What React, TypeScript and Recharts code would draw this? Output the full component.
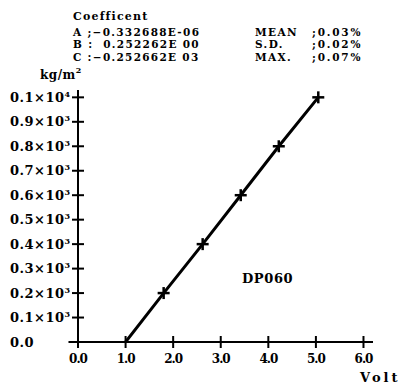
import React from 'react';
import { LineChart, Line, XAxis, YAxis, ReferenceLine, Customized } from 'recharts';

const volts = [1.0, 1.8, 2.62, 3.42, 4.22, 5.05];
const pressure = [0, 200, 400, 600, 800, 1000];
const xTicks = [0, 1, 2, 3, 4, 5, 6];
const xTickLabels = ['0.0', '1.0', '2.0', '3.0', '4.0', '5.0', '6.0'];
const yTicks = [0, 100, 200, 300, 400, 500, 600, 700, 800, 900, 1000];
const yTickLabels = ['0.0', '0.1×10^3', '0.2×10^3', '0.3×10^3', '0.4×10^3', '0.5×10^3', '0.6×10^3', '0.7×10^3', '0.8×10^3', '0.9×10^3', '0.1×10^4'];
const coefLines = ['A ;−0.332688E-06', 'B :  0.252262E 00', 'C :−0.252662E 03'];
const statNames = ['MEAN', 'S.D.', 'MAX.'];
const statValues = [';0.03%', ';0.02%', ';0.07%'];

const data = volts.map((v, i) => ({ v, kg: pressure[i] }));

const FONT = '"DejaVu Serif", "Liberation Serif", serif';

const XTick = (props: any) => {
  const { x, y, payload } = props;
  const idx = xTicks.indexOf(payload.value);
  return (
    <g>
      <line x1={x} x2={x} y1={y - 6} y2={y + 6} stroke="#000" strokeWidth={2} />
      <text x={x} y={y + 21} textAnchor="middle" fontFamily={FONT} fontWeight="bold" fontSize={12} letterSpacing={-1} fill="#000">
        {xTickLabels[idx]}
      </text>
    </g>
  );
};

const YTick = (props: any) => {
  const { y, payload } = props;
  const x = props.x;
  const idx = yTicks.indexOf(payload.value);
  const label = yTickLabels[idx] || '';
  const parts = label.split('^');
  return (
    <g>
      <line x1={x - 6} x2={x + 6} y1={y} y2={y} stroke="#000" strokeWidth={2} />
      <text x={10} y={y + 4.5} textAnchor="start" fontFamily={FONT} fontWeight="bold" fontSize={13} letterSpacing={0.5} fill="#000">
        {parts[0]}
        {parts[1] ? (
          <tspan fontSize={8} dy={-5}>{parts[1]}</tspan>
        ) : null}
      </text>
    </g>
  );
};

const CrossDot = (props: any) => {
  const { cx, cy, payload, index } = props;
  if (payload.kg === 0) return <g key={`d${index}`} />;
  return (
    <g key={`d${index}`}>
      <line x1={cx - 6} x2={cx + 6} y1={cy} y2={cy} stroke="#000" strokeWidth={2.5} />
      <line x1={cx} x2={cx} y1={cy - 6} y2={cy + 6} stroke="#000" strokeWidth={2.5} />
    </g>
  );
};

const Texts = () => (
  <g fontFamily={FONT} fontWeight="bold" fill="#000">
    <text x={73} y={20} fontSize={11} letterSpacing={1.2}>Coefficent</text>
    {coefLines.map((t, i) => (
      <text key={t} x={73} y={36 + i * 12.4} fontSize={10.5} letterSpacing={1.3} style={{ whiteSpace: 'pre' }}>{t}</text>
    ))}
    {statNames.map((t, i) => (
      <text key={t} x={255} y={36 + i * 12.4} fontSize={10.5} letterSpacing={1.4}>{t}</text>
    ))}
    {statValues.map((t, i) => (
      <text key={t} x={312} y={36 + i * 12.4} fontSize={10.5} letterSpacing={1.8}>{t}</text>
    ))}
    <text x={40} y={79} fontSize={12} letterSpacing={0.5}>
      kg/m<tspan fontSize={8} dy={-6}>2</tspan>
    </text>
    <text x={242} y={283} fontSize={13} letterSpacing={0.6}>DP060</text>
    <text x={360} y={382} fontSize={13} letterSpacing={3}>Volt</text>
  </g>
);

export default function App() {
  return (
    <div style={{ position: 'absolute', left: 0, top: 0, width: 405, height: 390, background: '#fff' }}>
      <LineChart width={405} height={390} data={data} margin={{ top: 90, right: 32, bottom: 0, left: 0 }}>
        <XAxis
          type="number"
          dataKey="v"
          domain={[0, 6.2]}
          ticks={xTicks}
          allowDataOverflow
          axisLine={false}
          tickLine={false}
          tickSize={0}
          tickMargin={0}
          height={48}
          tick={<XTick />}
          interval={0}
        />
        <YAxis
          type="number"
          dataKey="kg"
          domain={[0, 1030]}
          ticks={yTicks}
          allowDataOverflow
          axisLine={false}
          tickLine={false}
          tickSize={0}
          tickMargin={0}
          width={78}
          tick={<YTick />}
          interval={0}
        />
        <ReferenceLine segment={[{ x: -0.2, y: 0 }, { x: 6.2, y: 0 }]} ifOverflow="visible" stroke="#000" strokeWidth={2} />
        <ReferenceLine segment={[{ x: 0, y: -22 }, { x: 0, y: 1030 }]} ifOverflow="visible" stroke="#000" strokeWidth={2} />
        <Line
          type="linear"
          dataKey="kg"
          stroke="#000"
          strokeWidth={3}
          dot={<CrossDot />}
          activeDot={false}
          isAnimationActive={false}
        />
        <Customized component={<Texts />} />
      </LineChart>
    </div>
  );
}
